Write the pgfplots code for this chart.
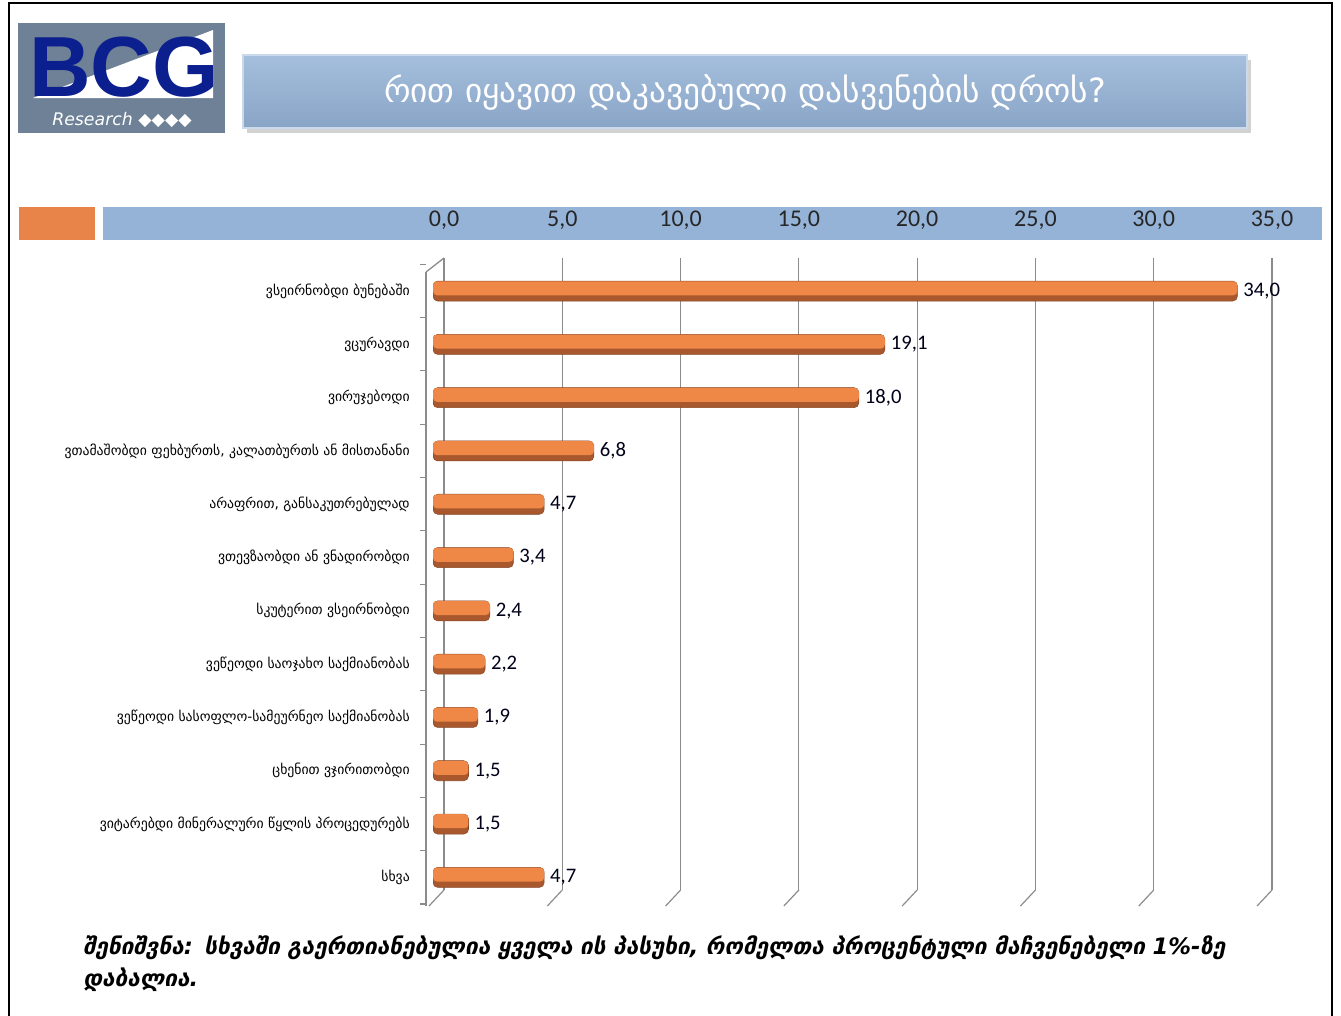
\documentclass[border=0pt]{standalone}
\usepackage{fontspec}
\setmainfont{Carlito}
\newfontfamily\geo{DejaVu Sans}
\newfontfamily\lib{Liberation Sans}
\usepackage{pgfplots}
\pgfplotsset{compat=1.18}
\pgfkeys{/pgf/number format/.cd,fixed,fixed zerofill,precision=1,use comma,assume math mode=true}

\definecolor{banner}{HTML}{95B3D7}
\definecolor{logobg}{HTML}{6E8196}
\definecolor{navy}{HTML}{0B1F8E}
\definecolor{orangebox}{HTML}{E8834A}
\definecolor{barmid}{HTML}{EF8746}
\definecolor{bardark}{HTML}{A9582D}
\definecolor{gridc}{HTML}{8C8C8C}

\pgfplotstableread{
val idx
34.0 0
19.1 1
18.0 2
6.8 3
4.7 4
3.4 5
2.4 6
2.2 7
1.9 8
1.5 9
1.5 10
4.7 11
}\datatable

\begin{document}
\begin{tikzpicture}
% decorations in pixel units of the reference (y down)
\begin{scope}[x=0.75pt,y=-0.75pt]
  % outer frame
  \draw[black, line width=2pt] (9,1020)--(9,3)--(1332,3)--(1332,1020);
  % logo
  \fill[logobg] (18,23) rectangle (225,133);
  \fill[white] (33,98)--(213,98)--(213,30)--cycle;
  \node[navy, font=\lib\bfseries\fontsize{64}{64}\selectfont, inner sep=0pt, anchor=base] at (124,96) {BCG};
  \node[white, font=\geo\itshape\fontsize{13}{13}\selectfont, inner sep=0pt] at (122,120) {Research ◆◆◆◆};
  % title banner
  \fill[gray!35] (247,60) rectangle (1251,133);
  \fill[top color=banner!85!white, bottom color=banner!92!black, draw=banner!50!white, line width=1.5pt] (243,55) rectangle (1247,128);
  \node[white, font=\geo\fontsize{25}{25}\selectfont] at (745,92) {რით იყავით დაკავებული დასვენების დროს?};
  % header strip
  \fill[orangebox] (19,207) rectangle (95,240);
  \fill[banner] (103,207) rectangle (1322,240);
  % 3D frame edges
  \draw[gridc, line width=1pt] (426,272)--(444,258);
  \draw[gridc, line width=1pt] (426,272)--(426,906);
  \foreach \k in {0,...,12} \draw[gridc, line width=0.8pt] (420,{264.35+53.3*\k})--(426,{264.35+53.3*\k});
  \foreach \k in {0,...,7} \draw[gridc, line width=0.9pt] ({444+118.29*\k},890)--({429+118.29*\k},906);
  % note
  \node[anchor=north west, align=left, text width=900pt, inner sep=0pt,
        font=\geo\bfseries\itshape\fontsize{17}{24}\selectfont] at (83,935)
    {შენიშვნა: სხვაში გაერთიანებულია ყველა ის პასუხი, რომელთა პროცენტული მაჩვენებელი 1\%-ზე\\დაბალია.};
\end{scope}

\begin{axis}[
  at={(324.75pt,-193.5pt)}, anchor=north west,
  scale only axis, width=621pt, height=474pt,
  xmin=0, xmax=35, ymin=-0.62, ymax=11.238, y dir=reverse,
  axis line style={draw=none},
  major tick length=0pt,
  xtick={0,5,...,35},
  xticklabel pos=upper,
  xticklabel style={anchor=center, yshift=28.5pt, xshift=8.25pt, text=black!85, font=\fontsize{18}{18}\selectfont},
  xmajorgrids, grid style={gridc, line width=0.9pt, xshift=8.25pt},
  ytick={0,...,11},
  yticklabels={ვსეირნობდი ბუნებაში, ვცურავდი, ვირუჯებოდი,
    {ვთამაშობდი ფეხბურთს, კალათბურთს ან მისთანანი},
    {არაფრით, განსაკუთრებულად}, ვთევზაობდი ან ვნადირობდი,
    სკუტერით ვსეირნობდი, ვეწეოდი საოჯახო საქმიანობას,
    ვეწეოდი სასოფლო-სამეურნეო საქმიანობას, ცხენით ვჯირითობდი,
    ვიტარებდი მინერალური წყლის პროცედურებს, სხვა},
  yticklabel style={anchor=east, inner sep=0pt, xshift=-17.25pt, text=black, font=\geo\fontsize{10.3}{12}\selectfont},
  xbar, bar width=15pt,
]
% bar body (dark lower part)
\addplot[draw=bardark!80!black, line width=0.4pt, fill=bardark, rounded corners=3.5pt,
  nodes near coords,
  nodes near coords style={anchor=west, xshift=1pt, text=black!90!blue, font=\fontsize{15.5}{15.5}\selectfont}]
  table[x=val, y=idx] {\datatable};
% lit upper part of the cylinder
\addplot[draw=none, fill=barmid, bar width=10.5pt, bar shift=2.1pt, rounded corners=3pt, forget plot]
  table[x=val, y=idx] {\datatable};
\end{axis}

\pgfresetboundingbox
\path[use as bounding box] (0,0) rectangle (1005.75pt,-761.25pt);
\end{tikzpicture}
\end{document}
